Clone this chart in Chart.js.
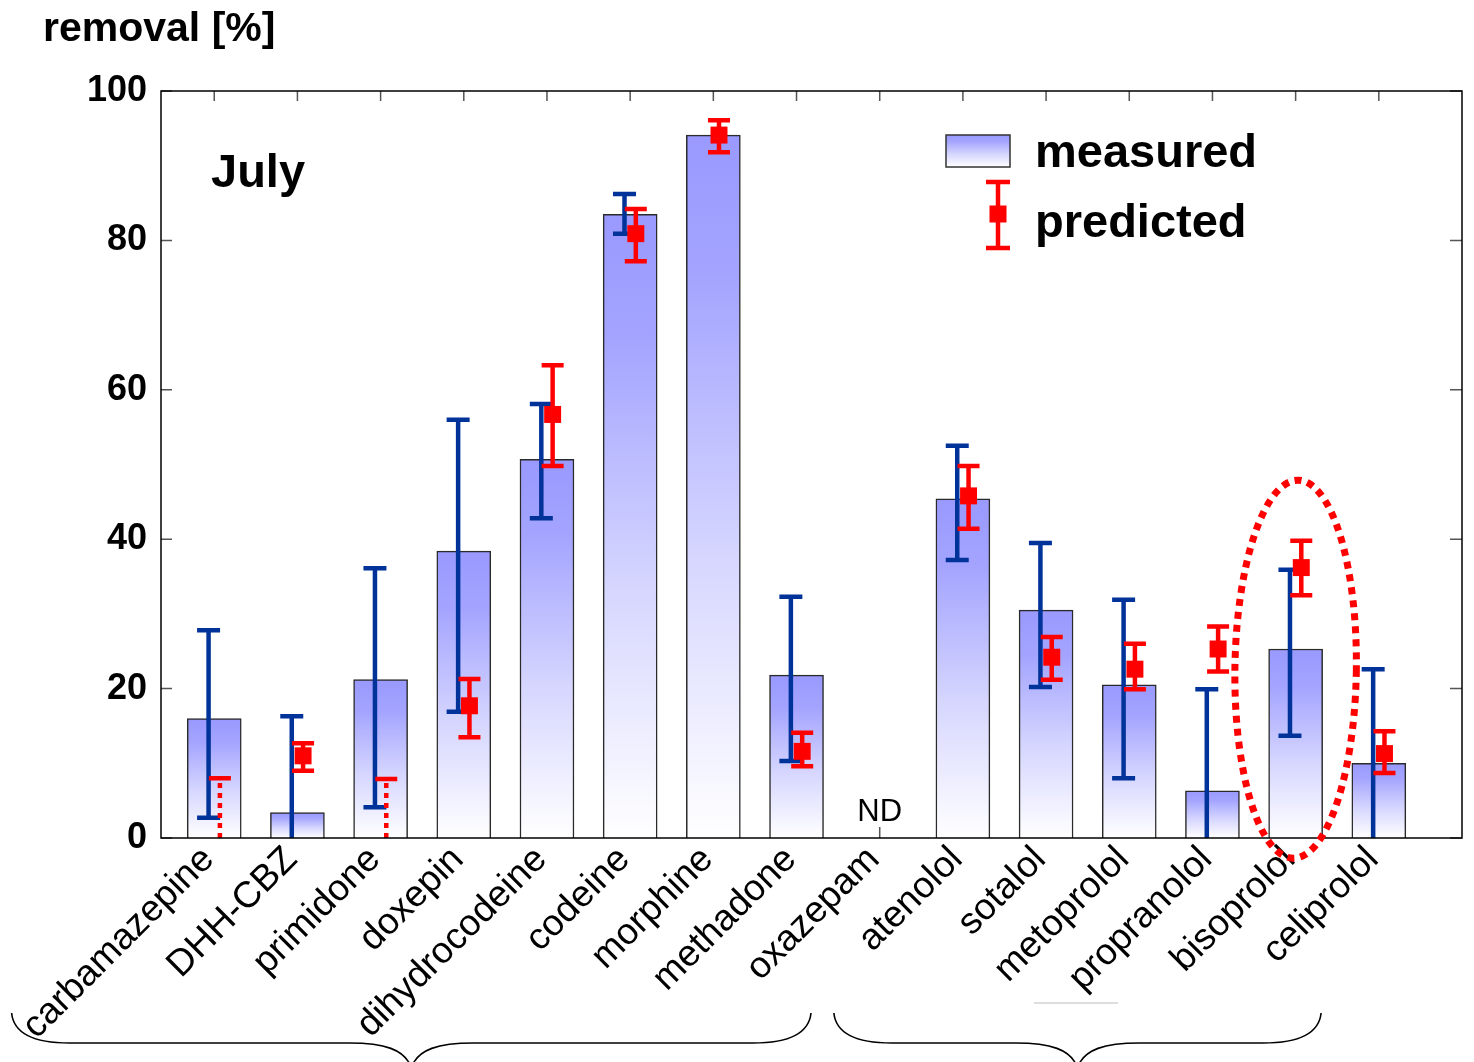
<!DOCTYPE html>
<html>
<head>
<meta charset="utf-8">
<script src="https://cdn.jsdelivr.net/npm/chart.js@4.4.1/dist/chart.umd.min.js"></script>
<style>
  html, body { margin: 0; padding: 0; background: #fff; }
  #wrap { width: 1474px; height: 1062px; position: relative; }
</style>
</head>
<body>
<div id="wrap"><canvas id="removalChart"></canvas></div>
<script>
// compounds on the x axis
const names = ['carbamazepine', 'DHH-CBZ', 'primidone', 'doxepin', 'dihydrocodeine', 'codeine', 'morphine',
  'methadone', 'oxazepam', 'atenolol', 'sotalol', 'metoprolol', 'propranolol', 'bisoprolol', 'celiprolol'];

// measured removal [%] and its range (null = no bar / no error bar)
const measured     = [16.0, 3.4, 21.2, 38.4, 50.7, 83.5, 94.1, 21.8, null, 45.4, 30.5, 20.5, 6.3, 25.3, 10.0];
const measuredLow  = [2.7, -3, 4.1, 16.9, 42.8, 80.9, null, 10.3, null, 37.2, 20.2, 8.0, -3, 13.7, -3];
const measuredHigh = [27.8, 16.3, 36.1, 56.0, 58.1, 86.2, null, 32.3, null, 52.5, 39.5, 31.9, 19.9, 35.9, 22.6];

// predicted removal [%] (null value = below zero, range drawn dotted)
const predicted     = [null, 11.0, null, 17.7, 56.7, 80.9, 94.1, 11.6, null, 45.8, 24.2, 22.6, 25.3, 36.2, 11.3];
const predictedLow  = [0, 9.0, 0, 13.5, 49.8, 77.2, 91.8, 9.6, null, 41.4, 21.2, 19.9, 22.3, 32.5, 8.7];
const predictedHigh = [8.0, 12.7, 7.9, 21.3, 63.3, 84.2, 96.1, 14.1, null, 49.8, 26.9, 26.0, 28.3, 39.8, 14.3];

const yTicks = [0, 20, 40, 60, 80, 100];

const FONT = '"Liberation Sans", Arial, Helvetica, sans-serif';
const BLUE = '#003399';
const RED = '#ff0000';

function barGradient(ctx, top, bottom) {
  const g = ctx.createLinearGradient(0, top, 0, bottom);
  g.addColorStop(0, '#9999ff');
  g.addColorStop(0.2, '#a4a4ff');
  g.addColorStop(0.6, '#d6d6ff');
  g.addColorStop(1, '#ffffff');
  return g;
}

function errorBar(ctx, x, yLo, yHi, color, width, cap, dotted) {
  ctx.save();
  ctx.strokeStyle = color;
  ctx.lineWidth = width;
  ctx.lineCap = 'butt';
  ctx.beginPath();
  if (dotted) ctx.setLineDash([5, 5]);
  ctx.moveTo(x, yLo);
  ctx.lineTo(x, yHi);
  ctx.stroke();
  ctx.setLineDash([]);
  ctx.beginPath();
  ctx.moveTo(x - cap / 2, yHi);
  ctx.lineTo(x + cap / 2, yHi);
  if (!dotted) {
    ctx.moveTo(x - cap / 2, yLo);
    ctx.lineTo(x + cap / 2, yLo);
  }
  ctx.stroke();
  ctx.restore();
}

function brace(ctx, x0, x1, yTop, yMid, yTip) {
  const xm = (x0 + x1) / 2;
  ctx.beginPath();
  ctx.moveTo(x0, yTop);
  ctx.bezierCurveTo(x0 + 2, yMid - 10, x0 + 20, yMid, x0 + 58, yMid);
  ctx.lineTo(xm - 62, yMid);
  ctx.bezierCurveTo(xm - 28, yMid, xm - 6, yMid + 6, xm, yTip);
  ctx.moveTo(xm, yTip);
  ctx.bezierCurveTo(xm + 6, yMid + 6, xm + 28, yMid, xm + 62, yMid);
  ctx.lineTo(x1 - 58, yMid);
  ctx.bezierCurveTo(x1 - 20, yMid, x1 - 2, yMid - 10, x1, yTop);
  ctx.stroke();
}

const OFF = 0.068; // side shift of the error bars, in category units

const framePlugin = {
  id: 'frame',
  beforeDatasetsDraw(chart) {
    const { ctx, chartArea: a, scales: { x, y } } = chart;
    ctx.save();
    ctx.strokeStyle = '#555';
    ctx.lineWidth = 1.5;
    ctx.beginPath();
    names.forEach((n, i) => {
      const px = x.getPixelForValue(i);
      ctx.moveTo(px, a.bottom); ctx.lineTo(px, a.bottom - 11);
      ctx.moveTo(px, a.top); ctx.lineTo(px, a.top + 10);
    });
    yTicks.forEach(v => {
      const py = y.getPixelForValue(v);
      ctx.moveTo(a.left, py); ctx.lineTo(a.left + 11, py);
      ctx.moveTo(a.right, py); ctx.lineTo(a.right - 12, py);
    });
    ctx.stroke();
    ctx.restore();
  },
  afterDatasetDraw(chart, args) {
    if (args.index !== 1) return;
    const { ctx, chartArea: a, scales: { x, y } } = chart;
    ctx.save();
    ctx.beginPath();
    ctx.rect(a.left, a.top, a.right - a.left, a.bottom - a.top);
    ctx.clip();
    names.forEach((n, i) => {
      if (measuredLow[i] !== null) {
        errorBar(ctx, x.getPixelForValue(i - OFF), y.getPixelForValue(measuredLow[i]),
          y.getPixelForValue(measuredHigh[i]), BLUE, 4.5, 23, false);
      }
      if (predictedLow[i] !== null) {
        errorBar(ctx, x.getPixelForValue(i + OFF), y.getPixelForValue(predictedLow[i]),
          y.getPixelForValue(predictedHigh[i]), RED, 4.5, 22, predicted[i] === null);
      }
    });
    ctx.restore();
  },
  afterDraw(chart) {
    const { ctx, chartArea: a, scales: { x, y } } = chart;
    ctx.save();
    // frame
    ctx.strokeStyle = '#000';
    ctx.lineWidth = 1.5;
    ctx.strokeRect(a.left, a.top, a.right - a.left, a.bottom - a.top);

    // texts
    ctx.fillStyle = '#000';
    ctx.textAlign = 'left';
    ctx.textBaseline = 'alphabetic';
    ctx.font = 'bold 41px ' + FONT;
    ctx.fillText('removal [%]', 43, 41);
    ctx.font = 'bold 47px ' + FONT;
    ctx.fillText('July', 211, 187);
    ctx.font = '31px ' + FONT;
    ctx.textAlign = 'center';
    ctx.fillText('ND', x.getPixelForValue(8), 821);

    // legend
    ctx.fillStyle = barGradient(ctx, 135, 167);
    ctx.fillRect(946, 135, 64, 32);
    ctx.strokeStyle = '#333';
    ctx.lineWidth = 1.5;
    ctx.strokeRect(946, 135, 64, 32);
    errorBar(ctx, 998, 248, 182, RED, 4.5, 24, false);
    ctx.fillStyle = RED;
    ctx.fillRect(998 - 8.5, 214 - 8.5, 17, 17);
    ctx.fillStyle = '#000';
    ctx.textAlign = 'left';
    ctx.font = 'bold 47px ' + FONT;
    ctx.fillText('measured', 1035, 167);
    ctx.fillText('predicted', 1035, 237);

    // dotted ellipse around bisoprolol
    const cx = x.getPixelForValue(13), cy = y.getPixelForValue(22.6);
    const rx = x.getPixelForValue(13.73) - cx, ry = cy - y.getPixelForValue(47.9);
    ctx.strokeStyle = RED;
    ctx.lineWidth = 7;
    ctx.setLineDash([7, 6]);
    ctx.beginPath();
    ctx.ellipse(cx, cy, rx, ry, 0.013, 0, Math.PI * 2);
    ctx.stroke();
    ctx.setLineDash([]);

    // group braces under the labels
    ctx.strokeStyle = '#000';
    ctx.lineWidth = 1.6;
    brace(ctx, x.getPixelForValue(-2.436), x.getPixelForValue(7.174), 1013, 1043, 1068);
    brace(ctx, x.getPixelForValue(7.449), x.getPixelForValue(13.306), 1013, 1043, 1068);
    ctx.strokeStyle = '#dddddd';
    ctx.lineWidth = 2;
    ctx.beginPath();
    ctx.moveTo(1034, 1003); ctx.lineTo(1118, 1003);
    ctx.stroke();
    ctx.restore();
  }
};

const ctx = document.getElementById('removalChart');
new Chart(ctx, {
  type: 'bar',
  data: {
    datasets: [
      {
        type: 'scatter',
        label: 'predicted',
        order: 1,
        data: names.map((n, i) => ({ x: i + OFF, y: predicted[i] })),
        pointStyle: 'rect',
        pointRadius: 12,
        pointHoverRadius: 12,
        backgroundColor: RED,
        borderWidth: 0,
        showLine: false
      },
      {
        type: 'bar',
        label: 'measured',
        order: 2,
        data: names.map((n, i) => ({ x: i, y: measured[i] })),
        barThickness: 54,
        borderColor: '#2a2a2a',
        borderWidth: 1.5,
        borderSkipped: 'bottom',
        backgroundColor: c => {
          const chart = c.chart;
          if (!chart.chartArea || c.type !== 'data' || c.raw.y === null) return '#9999ff';
          const ys = chart.scales.y;
          const top = ys.getPixelForValue(c.raw.y), bottom = ys.getPixelForValue(0);
          if (bottom - top < 1) return '#ffffff';
          return barGradient(chart.ctx, top, bottom);
        }
      }
    ]
  },
  options: {
    responsive: true,
    maintainAspectRatio: false,
    animation: false,
    layout: { padding: { top: 91, right: 8, left: 0, bottom: 0 } },
    plugins: {
      legend: { display: false },
      tooltip: { enabled: false },
      title: { display: false }
    },
    scales: {
      x: {
        type: 'linear',
        offset: false,
        min: -0.64,
        max: 15,
        grid: { display: false },
        border: { display: false },
        afterBuildTicks: s => { s.ticks = names.map((n, i) => ({ value: i })); },
        afterFit: s => { s.height = 224; s.paddingLeft = 0; s.paddingRight = 0; },
        ticks: {
          autoSkip: false,
          maxRotation: 45,
          minRotation: 45,
          padding: -8,
          labelOffset: -6,
          color: '#000',
          font: { family: FONT, size: 37 },
          callback: v => names[v]
        }
      },
      y: {
        min: 0,
        max: 100,
        grid: { display: false },
        border: { display: false },
        afterBuildTicks: s => { s.ticks = yTicks.map(v => ({ value: v })); },
        afterFit: s => { s.width = 161; s.paddingTop = 0; s.paddingBottom = 0; },
        ticks: {
          padding: 6,
          color: '#000',
          font: { family: FONT, size: 36, weight: 'bold' }
        }
      }
    }
  },
  plugins: [framePlugin]
});
</script>
</body>
</html>
